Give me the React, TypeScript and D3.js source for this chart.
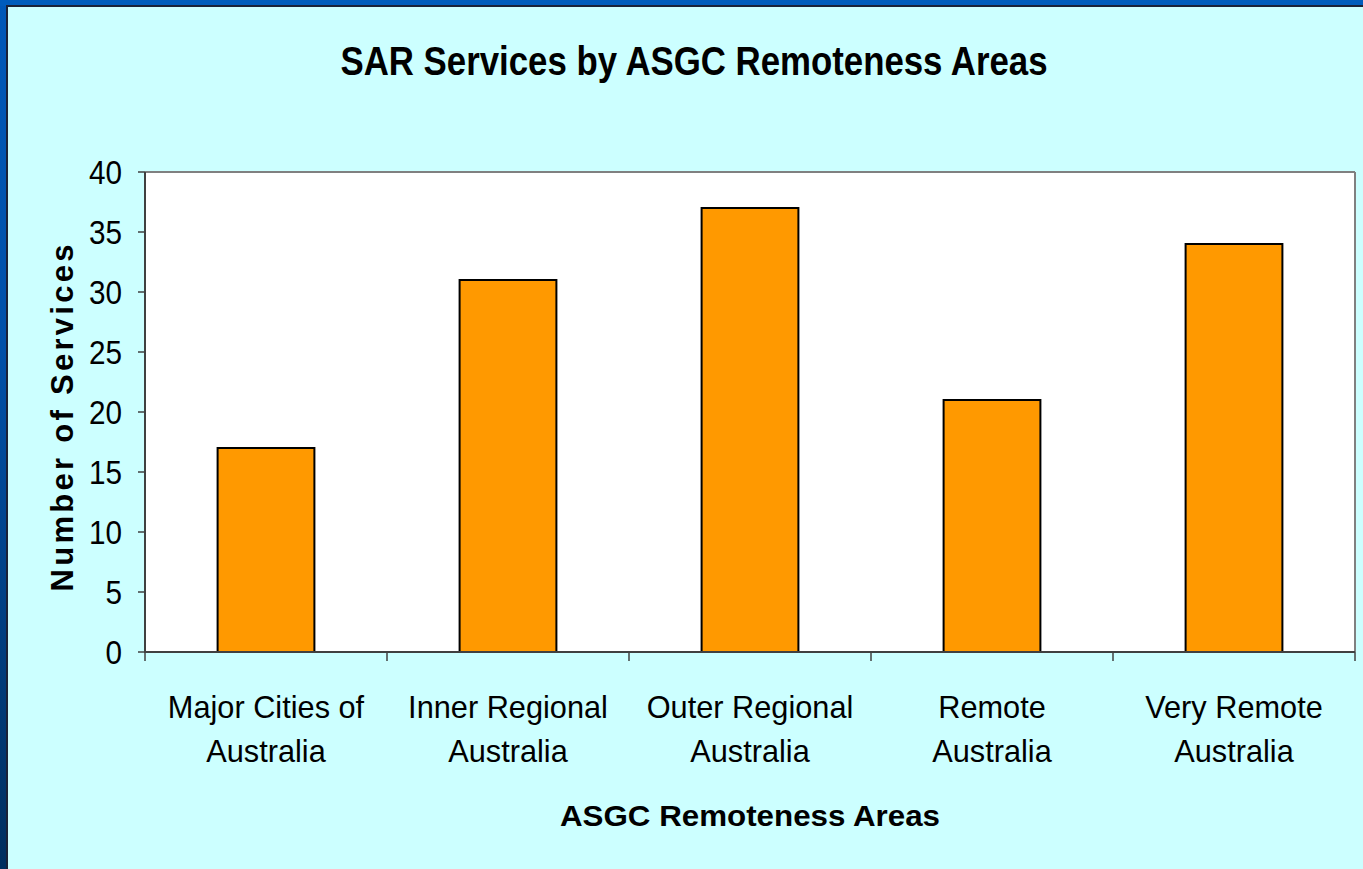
import React from "react";
import * as d3 from "d3";

const categories: string[][] = [
  ["Major Cities of", "Australia"],
  ["Inner Regional", "Australia"],
  ["Outer Regional", "Australia"],
  ["Remote", "Australia"],
  ["Very Remote", "Australia"],
];
const values: number[] = [17, 31, 37, 21, 34];
const yTicks: number[] = [0, 5, 10, 15, 20, 25, 30, 35, 40];
const titleText = "SAR Services by ASGC Remoteness Areas";
const xTitle = "ASGC Remoteness Areas";
const yTitle = "Number of Services";

const W = 1363;
const H = 869;
const plot = { left: 145, top: 172, right: 1355, bottom: 652 };
const FONT = "'Liberation Sans', Arial, Helvetica, sans-serif";

export default function App() {
  const keys = categories.map((c) => c.join(" "));
  const x = d3.scaleBand<string>().domain(keys).range([plot.left, plot.right]).paddingInner(0).paddingOuter(0);
  const y = d3.scaleLinear().domain([0, 40]).range([plot.bottom, plot.top]);
  const barW = x.bandwidth() * 0.4;
  const bounds = [...keys.map((k) => x(k) as number), plot.right];

  return (
    <svg
      width={W}
      height={H}
      style={{ position: "fixed", left: 0, top: 0, display: "block" }}
      xmlns="http://www.w3.org/2000/svg"
    >
      <defs>
        <linearGradient id="leftBand" x1="0" y1="0" x2="0" y2="1">
          <stop offset="0" stopColor="#0058B8" />
          <stop offset="0.4" stopColor="#0050A8" />
          <stop offset="1" stopColor="#002E5E" />
        </linearGradient>
      </defs>
      {/* frame */}
      <rect x={0} y={0} width={W} height={H} fill="url(#leftBand)" />
      <rect x={0} y={0} width={W} height={6} fill="#005CBC" />
      <rect x={6} y={5} width={W - 6} height={2} fill="#1A2238" />
      <rect x={6} y={5} width={2} height={H - 5} fill="#1A2238" />
      <rect x={8} y={7} width={W - 8} height={H - 7} fill="#CCFFFF" />

      {/* title */}
      <text
        x={694}
        y={75}
        textAnchor="middle"
        fontFamily={FONT}
        fontWeight="bold"
        fontSize={40}
        textLength={707}
        lengthAdjust="spacingAndGlyphs"
        fill="#000"
      >
        {titleText}
      </text>

      {/* plot area */}
      <rect
        x={plot.left}
        y={plot.top}
        width={plot.right - plot.left}
        height={plot.bottom - plot.top}
        fill="#FFFFFF"
      />
      <line x1={plot.left} y1={plot.top} x2={plot.right} y2={plot.top} stroke="#808080" strokeWidth={2} />
      <line x1={plot.right} y1={plot.top} x2={plot.right} y2={plot.bottom} stroke="#808080" strokeWidth={2} />

      {/* bars */}
      {keys.map((k, i) => {
        const cx = (x(k) as number) + x.bandwidth() / 2;
        return (
          <rect
            key={k}
            x={cx - barW / 2}
            y={y(values[i])}
            width={barW}
            height={y(0) - y(values[i])}
            fill="#FF9900"
            stroke="#000"
            strokeWidth={2}
          />
        );
      })}

      {/* axes */}
      <line x1={plot.left} y1={plot.top} x2={plot.left} y2={plot.bottom} stroke="#404040" strokeWidth={2} />
      <line x1={plot.left - 1} y1={plot.bottom} x2={plot.right} y2={plot.bottom} stroke="#404040" strokeWidth={2} />
      {yTicks.map((t) => (
        <g key={t}>
          <line x1={plot.left - 7} x2={plot.left} y1={y(t)} y2={y(t)} stroke="#404040" strokeWidth={1.5} />
          <text
            transform={`translate(${plot.left - 23},${y(t) + 12}) scale(0.9,1)`}
            textAnchor="end"
            fontFamily={FONT}
            fontSize={33}
            fill="#000"
          >
            {t}
          </text>
        </g>
      ))}
      {bounds.map((b, i) => (
        <line key={i} x1={b} x2={b} y1={plot.bottom} y2={plot.bottom + 9} stroke="#404040" strokeWidth={1.5} />
      ))}
      {keys.map((k, i) => {
        const cx = (x(k) as number) + x.bandwidth() / 2;
        return (
          <g key={k}>
            {categories[i].map((line, j) => (
              <text
                key={j}
                transform={`translate(${cx},${718 + j * 44}) scale(0.96,1)`}
                textAnchor="middle"
                fontFamily={FONT}
                fontSize={32}
                fill="#000"
              >
                {line}
              </text>
            ))}
          </g>
        );
      })}

      {/* axis titles */}
      <text
        x={(plot.left + plot.right) / 2}
        y={826}
        textAnchor="middle"
        fontFamily={FONT}
        fontWeight="bold"
        fontSize={30}
        textLength={380}
        lengthAdjust="spacingAndGlyphs"
        fill="#000"
      >
        {xTitle}
      </text>
      <text
        transform={`translate(73,${(plot.top + plot.bottom) / 2 + 6}) rotate(-90)`}
        textAnchor="middle"
        fontFamily={FONT}
        fontWeight="bold"
        fontSize={31}
        textLength={347}
        lengthAdjust="spacing"
        fill="#000"
      >
        {yTitle}
      </text>
    </svg>
  );
}
